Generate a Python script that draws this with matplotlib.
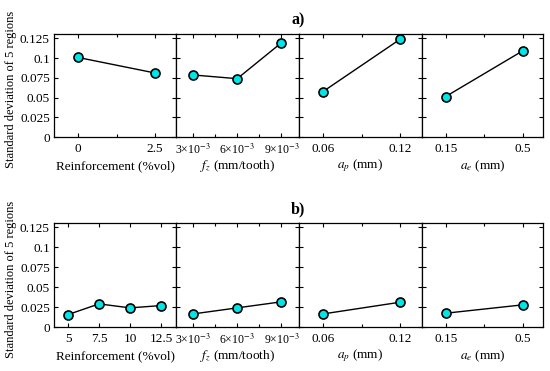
import matplotlib
matplotlib.use("Agg")
import matplotlib.pyplot as plt
from matplotlib.ticker import FixedLocator

plt.rcParams['font.family'] = ['Liberation Serif', 'DejaVu Serif']
plt.rcParams['mathtext.fontset'] = 'stix'
plt.rcParams['font.size'] = 9.5

# factor levels
reinf_a = [0, 2.5]
reinf_b = [5, 7.5, 10, 12.5]
fz = [3e-3, 6e-3, 9e-3]
ap = [0.06, 0.12]
ae = [0.15, 0.5]

# standard deviation of 5 regions, a)
sd_a_reinf = [0.1008, 0.0811]
sd_a_fz = [0.0786, 0.0739, 0.1193]
sd_a_ap = [0.0576, 0.1239]
sd_a_ae = [0.0513, 0.1092]

# standard deviation of 5 regions, b)
sd_b_reinf = [0.0156, 0.0290, 0.0240, 0.0269]
sd_b_fz = [0.0164, 0.0240, 0.0316]
sd_b_ap = [0.0164, 0.0311]
sd_b_ae = [0.0173, 0.0278]

xlabels = ['Reinforcement (%vol)', '$f_z$ (mm/tooth)', '$a_p$ (mm)', '$a_e$ (mm)']
yticks = [0, 0.025, 0.05, 0.075, 0.1, 0.125]
ytick_labels = ['0', '0.025', '0.05', '0.075', '0.1', '0.125']
fz_labels = ['3×10$^{-3}$', '6×10$^{-3}$', '9×10$^{-3}$']

W, H = 550, 371
edges = [54, 176, 299, 422, 543]
rows = [(34, 137), (223, 327)]

fig = plt.figure(figsize=(W / 100, H / 100), dpi=100)

rows_data = [
    [(reinf_a, sd_a_reinf), (fz, sd_a_fz), (ap, sd_a_ap), (ae, sd_a_ae)],
    [(reinf_b, sd_b_reinf), (fz, sd_b_fz), (ap, sd_b_ap), (ae, sd_b_ae)],
]
xlims_rows = [
    [(-0.78, 3.18), (1.84e-3, 10.2e-3), (0.0413, 0.137), (0.042, 0.592)],
    [(3.87, 13.7), (1.84e-3, 10.2e-3), (0.0413, 0.137), (0.042, 0.592)],
]
xticks_rows = [
    [reinf_a, fz, ap, ae],
    [reinf_b, fz, ap, ae],
]
minor_rows = [
    [[1.25], [4.5e-3, 7.5e-3], [0.09], [0.325]],
    [[], [4.5e-3, 7.5e-3], [0.09], [0.325]],
]
titles = ['a)', 'b)']

for r, (top, bot) in enumerate(rows):
    hpx = bot - top
    for c in range(4):
        ax = fig.add_axes([edges[c] / W, 1 - bot / H,
                           (edges[c + 1] - edges[c]) / W, hpx / H])
        x, y = rows_data[r][c]
        ax.plot(x, y, color='black', lw=1.0, marker='o', ms=6.5,
                mfc='#00e5e8', mec='black', mew=1.2, zorder=3)
        ax.set_xlim(*xlims_rows[r][c])
        ax.set_ylim(0, 0.1305)
        ax.set_xticks(xticks_rows[r][c])
        ax.tick_params(direction='in', which='both', top=True, right=True,
                       length=3, width=0.8, labelsize=9.5)
        if c == 1:
            ax.set_xticklabels(fz_labels, fontsize=8.5)
        else:
            ax.set_xticklabels([('%g' % v) for v in xticks_rows[r][c]])
        ax.xaxis.set_minor_locator(FixedLocator(minor_rows[r][c]))
        ax.set_yticks(yticks)
        if c == 0:
            ax.set_yticklabels(ytick_labels)
            ax.set_ylabel('Standard deviation of 5 regions', fontsize=9)
            ax.yaxis.set_label_coords(-37 / (edges[1] - edges[0]), 0.46)
        else:
            ax.set_yticklabels([])
        ax.tick_params(axis='x', pad=4)
        ax.tick_params(axis='y', pad=3)
        ax.tick_params(which='minor', length=2)
        ax.set_xlabel(xlabels[c], fontsize=9.5, va='center')
        ax.xaxis.set_label_coords(0.5, -29 / hpx)
        for s in ax.spines.values():
            s.set_linewidth(0.9)
    fig.text(298 / W, 1 - (top - 14) / H, titles[r], ha='center', va='center',
             fontsize=11.5, fontweight='bold')

fig.savefig('out.png', dpi=100)
